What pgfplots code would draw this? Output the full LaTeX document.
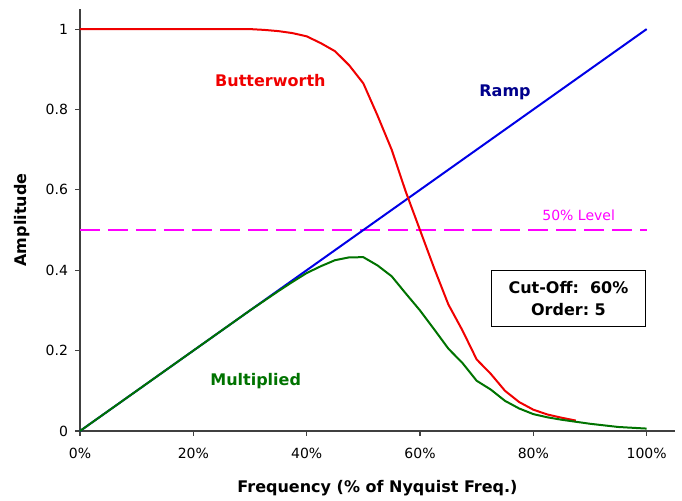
\documentclass[border=0pt]{standalone}
\usepackage{pgfplots}
\pgfplotsset{compat=1.18}
\usepackage{fontspec}
\setmainfont{DejaVu Sans}
\definecolor{bwred}{RGB}{240,0,0}
\definecolor{rampblue}{RGB}{0,0,230}
\definecolor{rampnavy}{RGB}{0,0,140}
\definecolor{mgreen}{RGB}{0,115,0}
\definecolor{lvl}{RGB}{255,0,255}
\pgfplotstableread{
x b
0 1
10 1
20 1
30 1.0
32.5 0.998
35 0.995
37.5 0.99
40 0.982
42.5 0.965
45 0.945
47.5 0.91
50 0.865
52.5 0.785
55 0.70
57.5 0.595
60 0.50
62.5 0.405
65 0.315
67.5 0.25
70 0.178
72.5 0.142
75 0.10
77.5 0.072
80 0.053
82.5 0.041
85 0.033
87.5 0.026
}\butter
\pgfplotstableread{
x m
0 0
10 0.1
20 0.2
30 0.3
32.5 0.324
35 0.348
37.5 0.371
40 0.393
42.5 0.410
45 0.425
47.5 0.432
50 0.4325
52.5 0.412
55 0.385
57.5 0.342
60 0.30
62.5 0.253
65 0.205
67.5 0.169
70 0.125
72.5 0.103
75 0.075
77.5 0.056
80 0.042
82.5 0.034
85 0.028
87.5 0.023
90 0.018
92.5 0.014
95 0.010
97.5 0.008
100 0.006
}\mult
\begin{document}
\begin{tikzpicture}
\useasboundingbox (-60pt,-51.75pt) rectangle (451.5pt,323.25pt);
\begin{axis}[
  at={(0,0)}, anchor=south west,
  scale only axis, width=446.25pt, height=316.5pt,
  xmin=0, xmax=105, ymin=0, ymax=1.05,
  axis x line*=bottom, axis y line*=left,
  axis line style={-, draw=black!75, line width=0.8pt},
  tick align=outside, major tick length=3.5pt,
  tick style={black!75, line width=0.8pt},
  xtick={0,20,...,100},
  xticklabels={0\%,20\%,40\%,60\%,80\%,100\%},
  ytick={0,0.2,...,1},
  yticklabels={0,0.2,0.4,0.6,0.8,1},
  /pgf/number format/assume math mode=true,
  tick label style={font=\fontsize{10.5}{12}\selectfont},
  xticklabel style={yshift=-6pt},
  yticklabel style={xshift=-2pt},
  xlabel={\textbf{Frequency (\% of Nyquist Freq.)}},
  ylabel={\textbf{Amplitude}},
  label style={font=\fontsize{12}{14}\selectfont},
  xlabel style={at={(axis description cs:0.5,0)}, anchor=center, yshift=-43pt},
  ylabel style={at={(axis description cs:0,0.5)}, anchor=center, yshift=43.5pt},
  clip=false,
]
\addplot[lvl, line width=1pt, dash pattern=on 15pt off 6pt] coordinates {(0,0.5) (100,0.5)};
\addplot[rampblue, line width=1.5pt] coordinates {(0,0) (100,1)};
\addplot[bwred, line width=1.5pt] table[x=x,y=b] {\butter};
\addplot[mgreen, line width=1.5pt] table[x=x,y=m] {\mult};
\node[text=bwred, font=\bfseries\fontsize{12}{14}\selectfont] at (axis cs:33.6,0.873) {Butterworth};
\node[text=rampnavy, font=\bfseries\fontsize{12}{14}\selectfont] at (axis cs:75,0.843) {Ramp};
\node[text=mgreen, font=\bfseries\fontsize{12}{14}\selectfont] at (axis cs:31,0.124) {Multiplied};
\node[text=lvl, font=\fontsize{10.5}{12}\selectfont] at (axis cs:88,0.537) {50\% Level};
\node[draw=black, line width=0.8pt, align=center, font=\bfseries\fontsize{12}{16}\selectfont,
      minimum width=115pt, minimum height=42pt, inner sep=2pt] at (axis cs:86.2,0.33)
  {Cut-Off:\ \ 60\%\\Order:\ 5};
\end{axis}
\end{tikzpicture}
\end{document}
